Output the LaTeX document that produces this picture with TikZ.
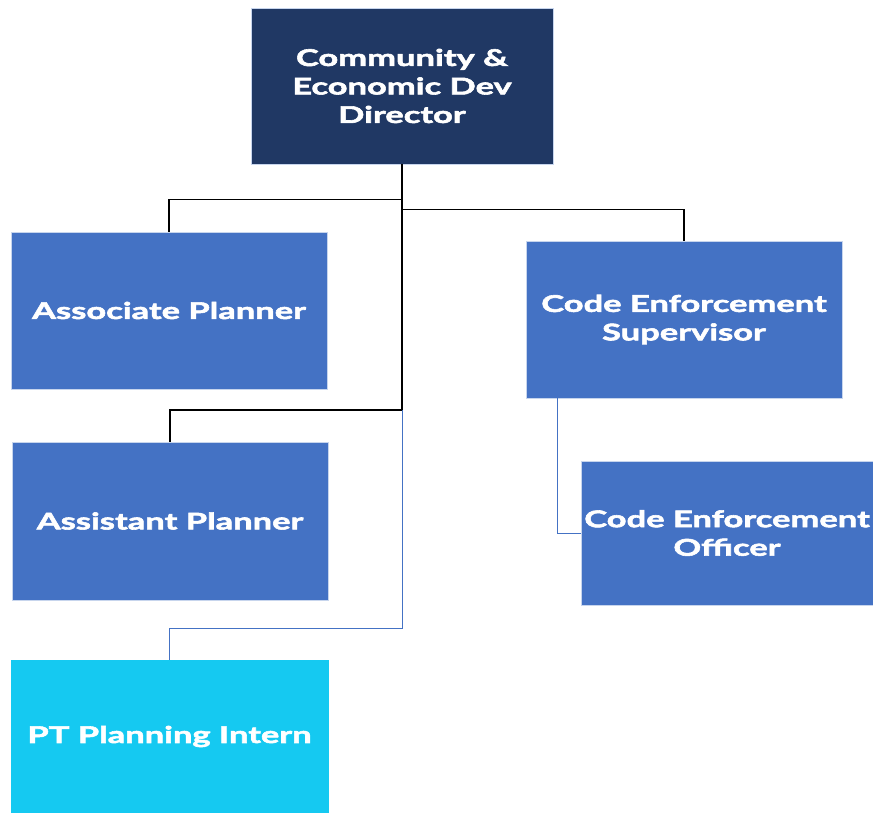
\documentclass[tikz,border=0pt]{standalone}
\usepackage{fontspec}
\setmainfont{Lato}
\newfontfamily\orgfont{Lato}[FakeStretch=1.5,FakeBold=2.5]
\usepackage{tikz}
\definecolor{navy}{HTML}{203864}
\definecolor{midblue}{HTML}{4472C4}
\definecolor{skyblue}{HTML}{15C9F1}

\begin{document}
\begin{tikzpicture}[x=1pt,y=-1pt,
  orgbox/.style={draw=white!70!midblue, line width=.6pt, fill=midblue, text=white, align=center,
    font=\orgfont\bfseries\fontsize{23}{28.5}\selectfont, inner sep=0pt},
  blk/.style={draw=black, line width=1.3pt},
  bl/.style={draw=midblue, line width=1pt}]
  \useasboundingbox (0,0) rectangle (873,813);
  \node[orgbox, fill=navy, minimum width=302, minimum height=156] (dir) at (402,86) {Community \&\\Economic Dev\\Director};
  \node[orgbox, minimum width=316, minimum height=157] (assoc) at (169,310.5) {Associate Planner};
  \node[orgbox, minimum width=316, minimum height=157] (ces) at (684,319.5) {Code Enforcement\\Supervisor};
  \node[orgbox, minimum width=316, minimum height=158] (asst) at (170,521) {Assistant Planner};
  \node[orgbox, minimum width=292, minimum height=144] (ceo) at (727,533) {Code Enforcement\\Officer};
  \node[orgbox, fill=skyblue, draw=skyblue, minimum width=317, minimum height=153] (intern) at (169.5,736.5) {PT Planning Intern};
  \coordinate (split) at (402,410);
  \coordinate (bend) at (402,628);
  \draw[blk] (dir.south) -- (split);
  \draw[blk] (dir.south) -- ++(0,35) -| (assoc.north);
  \draw[blk] (dir.south) -- ++(0,45) -| (ces.north);
  \draw[blk] (split) -| (asst.north);
  \draw[bl] (split) -- (bend) -| (intern.north);
  \draw[bl] ([xshift=-127]ces.south) |- (ceo.west);
\end{tikzpicture}
\end{document}
